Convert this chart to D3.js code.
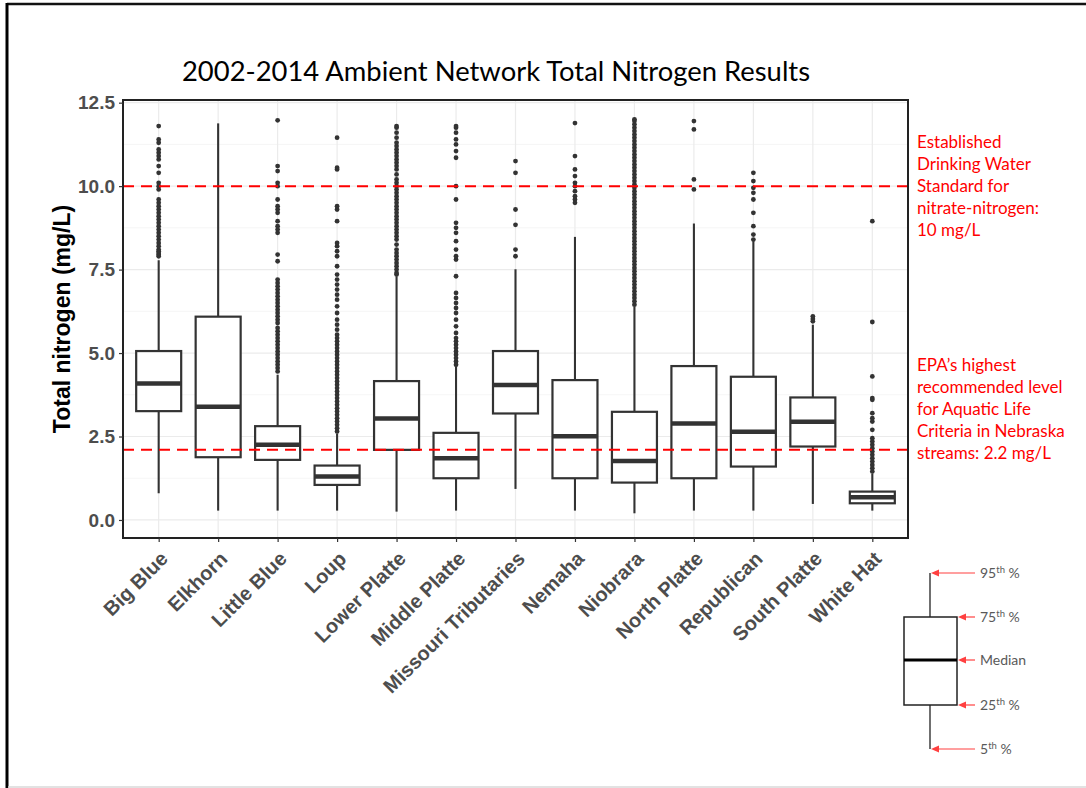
<!DOCTYPE html>
<html>
<head>
<meta charset="utf-8">
<script src="https://cdn.jsdelivr.net/npm/d3@7"></script>
<style>
  body { margin: 0; background: #fff; }
  svg { display: block; }
  .tick text { font-family: "Liberation Sans", Arial, sans-serif; font-weight: bold; fill: #4d4d4d; }
</style>
</head>
<body>
<svg id="chart"></svg>
<script>
// values (mg/L)
const categories = ["Big Blue", "Elkhorn", "Little Blue", "Loup", "Lower Platte", "Middle Platte",
  "Missouri Tributaries", "Nemaha", "Niobrara", "North Platte", "Republican", "South Platte", "White Hat"];
const whiskerLow = [0.80, 0.28, 0.28, 0.28, 0.25, 0.28, 0.93, 0.28, 0.20, 0.28, 0.28, 0.48, 0.28];
const q25 = [3.26, 1.88, 1.80, 1.05, 2.10, 1.25, 3.19, 1.25, 1.12, 1.25, 1.60, 2.20, 0.50];
const medians = [4.09, 3.39, 2.25, 1.30, 3.04, 1.85, 4.04, 2.51, 1.77, 2.89, 2.64, 2.94, 0.68];
const q75 = [5.06, 6.09, 2.81, 1.63, 4.16, 2.61, 5.06, 4.19, 3.24, 4.61, 4.29, 3.67, 0.85];
const whiskerHigh = [7.78, 11.88, 4.35, 2.58, 7.29, 4.59, 7.51, 8.48, 6.39, 8.88, 8.35, 5.85, 1.38];
const outliers = [
  [7.9, 7.95, 8.0, 8.05, 8.1, 8.2, 8.3, 8.4, 8.5, 8.6, 8.7, 8.8, 8.9, 9.0, 9.1, 9.2, 9.3, 9.4, 9.5, 9.6,
   9.9, 10.0, 10.1, 10.4, 10.6, 10.8, 10.9, 11.0, 11.1, 11.3, 11.4, 11.8],
  [],
  [4.45, 4.55, 4.65, 4.75, 4.85, 4.95, 5.05, 5.15, 5.25, 5.35, 5.45, 5.55, 5.65, 5.75, 5.9, 6.0, 6.1, 6.2,
   6.3, 6.4, 6.5, 6.6, 6.7, 6.8, 6.9, 7.0, 7.1, 7.2, 7.75, 7.95, 8.6, 8.7, 8.8, 8.95, 9.2, 9.3, 9.4, 9.6,
   10.0, 10.1, 10.45, 10.6, 11.97],
  [2.65, 2.75, 2.85, 2.95, 3.05, 3.15, 3.25, 3.35, 3.45, 3.55, 3.65, 3.75, 3.85, 3.95, 4.05, 4.15, 4.25,
   4.35, 4.45, 4.55, 4.65, 4.75, 4.85, 4.95, 5.05, 5.15, 5.25, 5.35, 5.45, 5.55, 5.7, 5.85, 6.0, 6.2, 6.4,
   6.6, 6.75, 6.9, 7.05, 7.2, 7.35, 7.6, 7.9, 8.05, 8.2, 8.3, 8.95, 9.3, 9.4, 10.5, 10.55, 11.45],
  [7.35, 7.4, 7.5, 7.6, 7.7, 7.8, 7.9, 8.0, 8.1, 8.25, 8.4, 8.5, 8.6, 8.7, 8.8, 8.9, 9.0, 9.1, 9.2, 9.3,
   9.4, 9.5, 9.6, 9.7, 9.8, 9.9, 10.0, 10.1, 10.2, 10.35, 10.5, 10.6, 10.7, 10.8, 10.9, 11.0, 11.1, 11.2,
   11.3, 11.45, 11.6, 11.75, 11.8],
  [4.65, 4.75, 4.85, 4.95, 5.05, 5.15, 5.25, 5.35, 5.45, 5.6, 5.8, 6.0, 6.2, 6.35, 6.5, 6.65, 6.8, 7.3,
   7.8, 7.9, 8.1, 8.35, 8.6, 8.75, 8.9, 9.6, 10.0, 10.85, 11.05, 11.25, 11.4, 11.6, 11.75, 11.8],
  [7.9, 8.1, 8.84, 9.3, 10.4, 10.75],
  [9.5, 9.6, 9.7, 9.85, 10.0, 10.1, 10.3, 10.5, 10.9, 11.89],
  [6.45, 6.55, 6.65, 6.75, 6.85, 6.95, 7.05, 7.15, 7.25, 7.35, 7.45, 7.55, 7.65, 7.75, 7.85, 7.95, 8.05,
   8.15, 8.25, 8.35, 8.45, 8.55, 8.65, 8.75, 8.85, 8.95, 9.05, 9.15, 9.25, 9.35, 9.45, 9.55, 9.65, 9.75,
   9.85, 9.95, 10.05, 10.15, 10.25, 10.35, 10.45, 10.55, 10.65, 10.75, 10.85, 10.95, 11.05, 11.15, 11.25,
   11.35, 11.45, 11.55, 11.65, 11.75, 11.85, 11.95, 12.0],
  [9.9, 10.2, 11.7, 11.95],
  [8.4, 8.55, 8.8, 9.2, 9.6, 9.8, 9.95, 10.15, 10.4],
  [5.95, 6.02, 6.1],
  [1.45, 1.55, 1.65, 1.75, 1.85, 1.95, 2.05, 2.15, 2.25, 2.35, 2.45, 2.7, 2.95, 3.05, 3.2, 3.6, 3.65,
   4.3, 5.93, 8.95]
];
const yTicks = [0, 2.5, 5, 7.5, 10, 12.5];
const yMinor = [1.25, 3.75, 6.25, 8.75, 11.25];
const refLines = [10.0, 2.1];
const refNotes = [
  ["Established", "Drinking Water", "Standard for", "nitrate-nitrogen:", "10 mg/L"],
  ["EPA\u2019s highest", "recommended level", "for Aquatic Life", "Criteria in Nebraska", "streams: 2.2 mg/L"]
];
const keyLabels = [["95", "th", " %"], ["75", "th", " %"], ["Median", "", ""], ["25", "th", " %"], ["5", "th", " %"]];

const W = 1086, H = 788;
const panel = { left: 123, right: 908, top: 100, bottom: 538 };

const svg = d3.select("#chart").attr("width", W).attr("height", H);

// outer frame of the figure
svg.append("line").attr("x1", 7).attr("x2", W).attr("y1", 4).attr("y2", 4)
  .attr("stroke", "#111").attr("stroke-width", 2.5);
svg.append("line").attr("x1", 7).attr("x2", 7).attr("y1", 3).attr("y2", H)
  .attr("stroke", "#000").attr("stroke-width", 3);
svg.append("line").attr("x1", 8).attr("x2", W).attr("y1", 787).attr("y2", 787)
  .attr("stroke", "#d9d9d9").attr("stroke-width", 1.5);

// title
svg.append("text")
  .attr("x", 496).attr("y", 81)
  .attr("text-anchor", "middle")
  .style("font-family", "Lato, 'Open Sans', sans-serif")
  .style("font-size", "27.4px")
  .style("fill", "#000")
  .text("2002-2014 Ambient Network Total Nitrogen Results");

// scales
const x = d3.scalePoint().domain(categories).range([panel.left, panel.right]).padding(0.6);
const y = d3.scaleLinear().domain([-0.54, 12.58]).range([panel.bottom, panel.top]);
const boxW = 45;

// grid
const grid = svg.append("g");
grid.selectAll(".minor").data(yMinor).join("line")
  .attr("x1", panel.left).attr("x2", panel.right)
  .attr("y1", d => y(d)).attr("y2", d => y(d))
  .attr("stroke", "#f2f2f2").attr("stroke-width", 0.8);
grid.selectAll(".major").data(yTicks).join("line")
  .attr("x1", panel.left).attr("x2", panel.right)
  .attr("y1", d => y(d)).attr("y2", d => y(d))
  .attr("stroke", "#ebebeb").attr("stroke-width", 1.2);
grid.selectAll(".vert").data(categories).join("line")
  .attr("x1", d => x(d)).attr("x2", d => x(d))
  .attr("y1", panel.top).attr("y2", panel.bottom)
  .attr("stroke", "#ebebeb").attr("stroke-width", 1.2);

// boxplots
const rows = categories.map((c, i) => ({
  cat: c, lo: whiskerLow[i], q1: q25[i], med: medians[i], q3: q75[i], hi: whiskerHigh[i], out: outliers[i]
}));

const boxes = svg.append("g").selectAll("g").data(rows).join("g")
  .attr("transform", d => `translate(${x(d.cat)},0)`);

boxes.append("line")
  .attr("y1", d => y(d.hi)).attr("y2", d => y(d.q3))
  .attr("stroke", "#333").attr("stroke-width", 2.1);
boxes.append("line")
  .attr("y1", d => y(d.q1)).attr("y2", d => y(d.lo))
  .attr("stroke", "#333").attr("stroke-width", 2.1);
boxes.append("rect")
  .attr("x", -boxW / 2).attr("width", boxW)
  .attr("y", d => y(d.q3)).attr("height", d => y(d.q1) - y(d.q3))
  .attr("fill", "#fff").attr("stroke", "#333").attr("stroke-width", 2.2);
boxes.append("line")
  .attr("x1", -boxW / 2).attr("x2", boxW / 2)
  .attr("y1", d => y(d.med)).attr("y2", d => y(d.med))
  .attr("stroke", "#333").attr("stroke-width", 4.5);
boxes.selectAll("circle").data(d => d.out).join("circle")
  .attr("cy", d => y(d)).attr("r", 2.4).attr("fill", "#333");

// reference lines
svg.append("g").selectAll("line").data(refLines).join("line")
  .attr("x1", panel.left).attr("x2", panel.right)
  .attr("y1", d => y(d)).attr("y2", d => y(d))
  .attr("stroke", "#ff0000").attr("stroke-width", 2)
  .attr("stroke-dasharray", "11,7");

// panel border
svg.append("rect")
  .attr("x", panel.left).attr("y", panel.top)
  .attr("width", panel.right - panel.left).attr("height", panel.bottom - panel.top)
  .attr("fill", "none").attr("stroke", "#222").attr("stroke-width", 2);

// axes
const yAxis = d3.axisLeft(y).tickValues(yTicks).tickFormat(d3.format(".1f")).tickSize(4).tickPadding(4);
const gy = svg.append("g").attr("transform", `translate(${panel.left},0)`).call(yAxis);
gy.select(".domain").remove();
gy.selectAll(".tick line").attr("stroke", "#333").attr("stroke-width", 1.2);
gy.selectAll(".tick text").style("font-size", "19px");

const xAxis = d3.axisBottom(x).tickSize(4).tickPadding(0);
const gx = svg.append("g").attr("transform", `translate(0,${panel.bottom})`).call(xAxis);
gx.select(".domain").remove();
gx.selectAll(".tick line").attr("stroke", "#333").attr("stroke-width", 1.2);
gx.selectAll(".tick text")
  .style("font-size", "20px")
  .attr("text-anchor", "end")
  .attr("dy", null)
  .attr("y", 0)
  .attr("transform", "translate(10,22) rotate(-45)");

// y axis title
svg.append("text")
  .attr("transform", `translate(70,${(panel.top + panel.bottom) / 2}) rotate(-90)`)
  .attr("text-anchor", "middle")
  .style("font-family", "'Liberation Sans', Arial, sans-serif")
  .style("font-weight", "bold")
  .style("font-size", "23px")
  .style("fill", "#000")
  .text("Total nitrogen (mg/L)");

// red notes beside the reference lines
const noteTop = [148, 371];
refNotes.forEach((lines, k) => {
  svg.append("g").selectAll("text").data(lines).join("text")
    .attr("x", 917).attr("y", (d, i) => noteTop[k] + i * 22)
    .style("font-family", "Lato, 'Open Sans', sans-serif")
    .style("font-size", "17px")
    .style("fill", "#ff0000")
    .text(d => d);
});

// key box explaining the boxplot
const kx = 930, kBoxL = 904, kBoxR = 957;
const keyY = [573, 617, 660, 705, 749];
const key = svg.append("g");
key.append("line").attr("x1", kx).attr("x2", kx).attr("y1", keyY[0]).attr("y2", keyY[1])
  .attr("stroke", "#222").attr("stroke-width", 1.3);
key.append("line").attr("x1", kx).attr("x2", kx).attr("y1", keyY[3]).attr("y2", keyY[4])
  .attr("stroke", "#222").attr("stroke-width", 1.3);
key.append("rect").attr("x", kBoxL).attr("y", keyY[1])
  .attr("width", kBoxR - kBoxL).attr("height", keyY[3] - keyY[1])
  .attr("fill", "#fff").attr("stroke", "#222").attr("stroke-width", 1.5);
key.append("line").attr("x1", kBoxL).attr("x2", kBoxR).attr("y1", keyY[2]).attr("y2", keyY[2])
  .attr("stroke", "#000").attr("stroke-width", 3);

const tips = [kx, kBoxR, kBoxR, kBoxR, kx];
keyY.forEach((ky, i) => {
  const tip = tips[i] + 1;
  key.append("line").attr("x1", tip + 4).attr("x2", 975).attr("y1", ky).attr("y2", ky)
    .attr("stroke", "#ff4040").attr("stroke-width", 1.2);
  key.append("path")
    .attr("d", `M${tip},${ky} L${tip + 8},${ky - 3.5} L${tip + 8},${ky + 3.5} Z`)
    .attr("fill", "#ff4040");
  const t = key.append("text").attr("x", 980).attr("y", ky + 5)
    .style("font-family", "Lato, 'Open Sans', sans-serif")
    .style("font-size", "14px")
    .style("fill", "#595959");
  t.append("tspan").text(keyLabels[i][0]);
  if (keyLabels[i][1]) {
    t.append("tspan").attr("dy", -5).style("font-size", "9.5px").text(keyLabels[i][1]);
    t.append("tspan").attr("dy", 5).text(keyLabels[i][2]);
  }
});
</script>
</body>
</html>
